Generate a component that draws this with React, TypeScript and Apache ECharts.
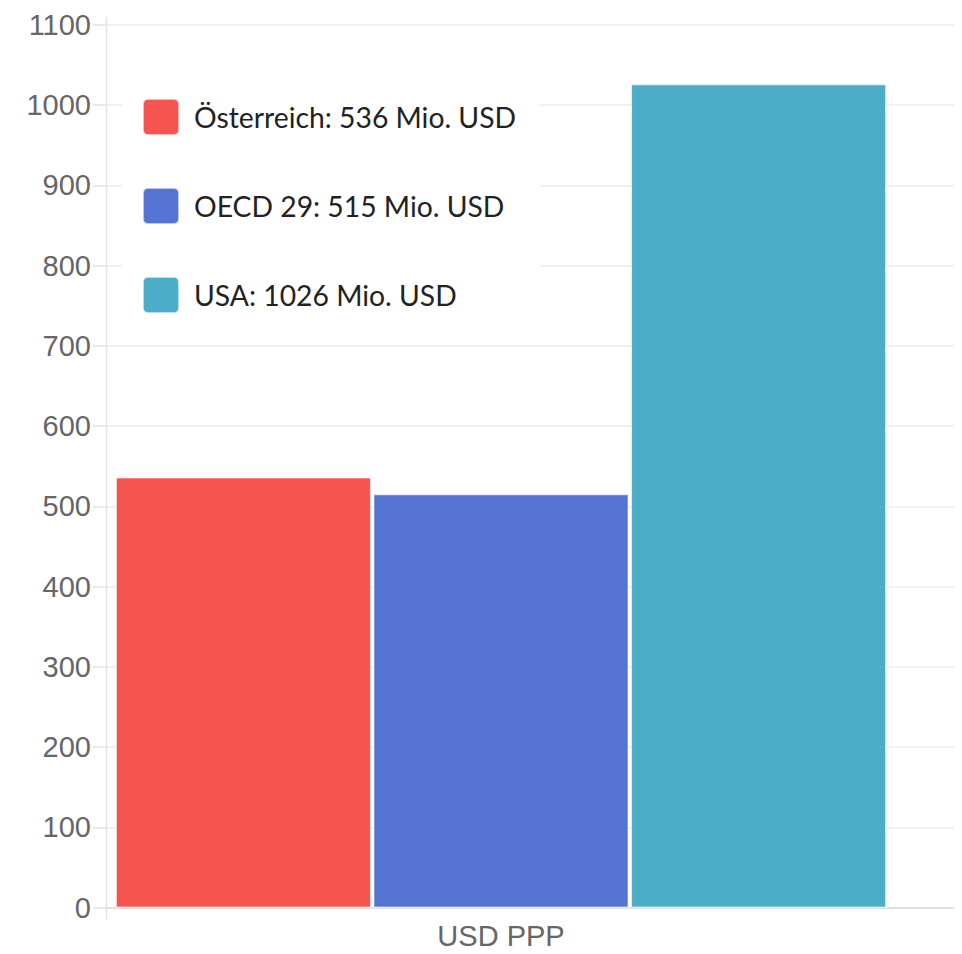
import React, { useEffect, useRef } from "react";
import * as echarts from "echarts";

const categories = ["USD PPP"];
const seriesNames = ["Österreich", "OECD 29", "USA"];
const seriesValues = [536, 515, 1026];
const seriesColors = ["#f5544f", "#5573d1", "#4badc7"];
const unit = "Mio. USD";
const yMin = 0;
const yMax = 1100;
const yInterval = 100;

const roundIcon =
  "path://M5,0H31A5,5,0,0,1,36,5V31A5,5,0,0,1,31,36H5A5,5,0,0,1,0,31V5A5,5,0,0,1,5,0Z";

export default function App() {
  const ref = useRef<HTMLDivElement>(null);
  useEffect(() => {
    if (!ref.current) return;
    const chart = echarts.init(ref.current, undefined, { renderer: "svg" });
    const valueMap: Record<string, number> = {};
    seriesNames.forEach((n, i) => (valueMap[n] = seriesValues[i]));
    chart.setOption({
      animation: false,
      backgroundColor: "#fff",
      grid: [
        { left: 106, right: 0, top: 25, bottom: 46.5 },
        { left: 106, right: 66, top: 25, bottom: 46.5 },
      ],
      legend: {
        orient: "vertical",
        left: 122,
        top: 74,
        padding: [24, 24, 24, 20],
        backgroundColor: "#fff",
        itemWidth: 36,
        itemHeight: 36,
        itemGap: 51,
        icon: roundIcon,
        data: seriesNames,
        formatter: (name: string) => `${name}: ${valueMap[name]} ${unit}`,
        textStyle: {
          fontFamily: "Lato",
          fontSize: 28.3,
          lineHeight: 36,
          color: "#222",
          padding: [0, 0, 0, 10],
        },
      },
      xAxis: [
        {
          gridIndex: 0,
          type: "category",
          data: categories,
          axisLine: { show: true, lineStyle: { color: "#e2e2e2", width: 2 } },
          axisTick: { show: false },
          axisLabel: { show: false },
          splitLine: { show: false },
        },
        {
          gridIndex: 1,
          type: "category",
          data: categories,
          axisLine: { show: false },
          axisTick: { show: false },
          axisLabel: {
            show: true,
            color: "#666",
            fontFamily: "Liberation Sans, Arial",
            fontSize: 29,
            margin: 14,
          },
        },
      ],
      yAxis: [
        {
          gridIndex: 0,
          type: "value",
          min: yMin,
          max: yMax,
          interval: yInterval,
          axisLine: { show: false },
          axisTick: {
            show: true,
            length: 13,
            lineStyle: { color: "#e2e2e2", width: 1.5 },
          },
          axisLabel: {
            color: "#666",
            fontFamily: "Liberation Sans, Arial",
            fontSize: 29,
            margin: 15,
            formatter: (v: number) => String(v),
          },
          splitLine: { show: true, lineStyle: { color: "#ececec", width: 1.5 } },
        },
        {
          gridIndex: 1,
          type: "value",
          min: yMin,
          max: yMax,
          interval: yInterval,
          show: false,
          splitLine: { show: false },
        },
      ],
      graphic: [
        {
          type: "line",
          shape: { x1: 106.5, y1: 17, x2: 106.5, y2: 920 },
          style: { stroke: "#e2e2e2", lineWidth: 1.5 },
          z: 1,
        },
      ],
      series: seriesNames.map((name, i) => ({
        name,
        type: "bar",
        xAxisIndex: 1,
        yAxisIndex: 1,
        data: [seriesValues[i]],
        barCategoryGap: "2.5%",
        barGap: "1%",
        itemStyle: {
          color: seriesColors[i],
          borderColor: "rgba(255,255,255,0.6)",
          borderWidth: 1,
        },
      })),
    });
    return () => chart.dispose();
  }, []);
  return <div ref={ref} style={{ width: 962, height: 954, margin: -8 }} />;
}
